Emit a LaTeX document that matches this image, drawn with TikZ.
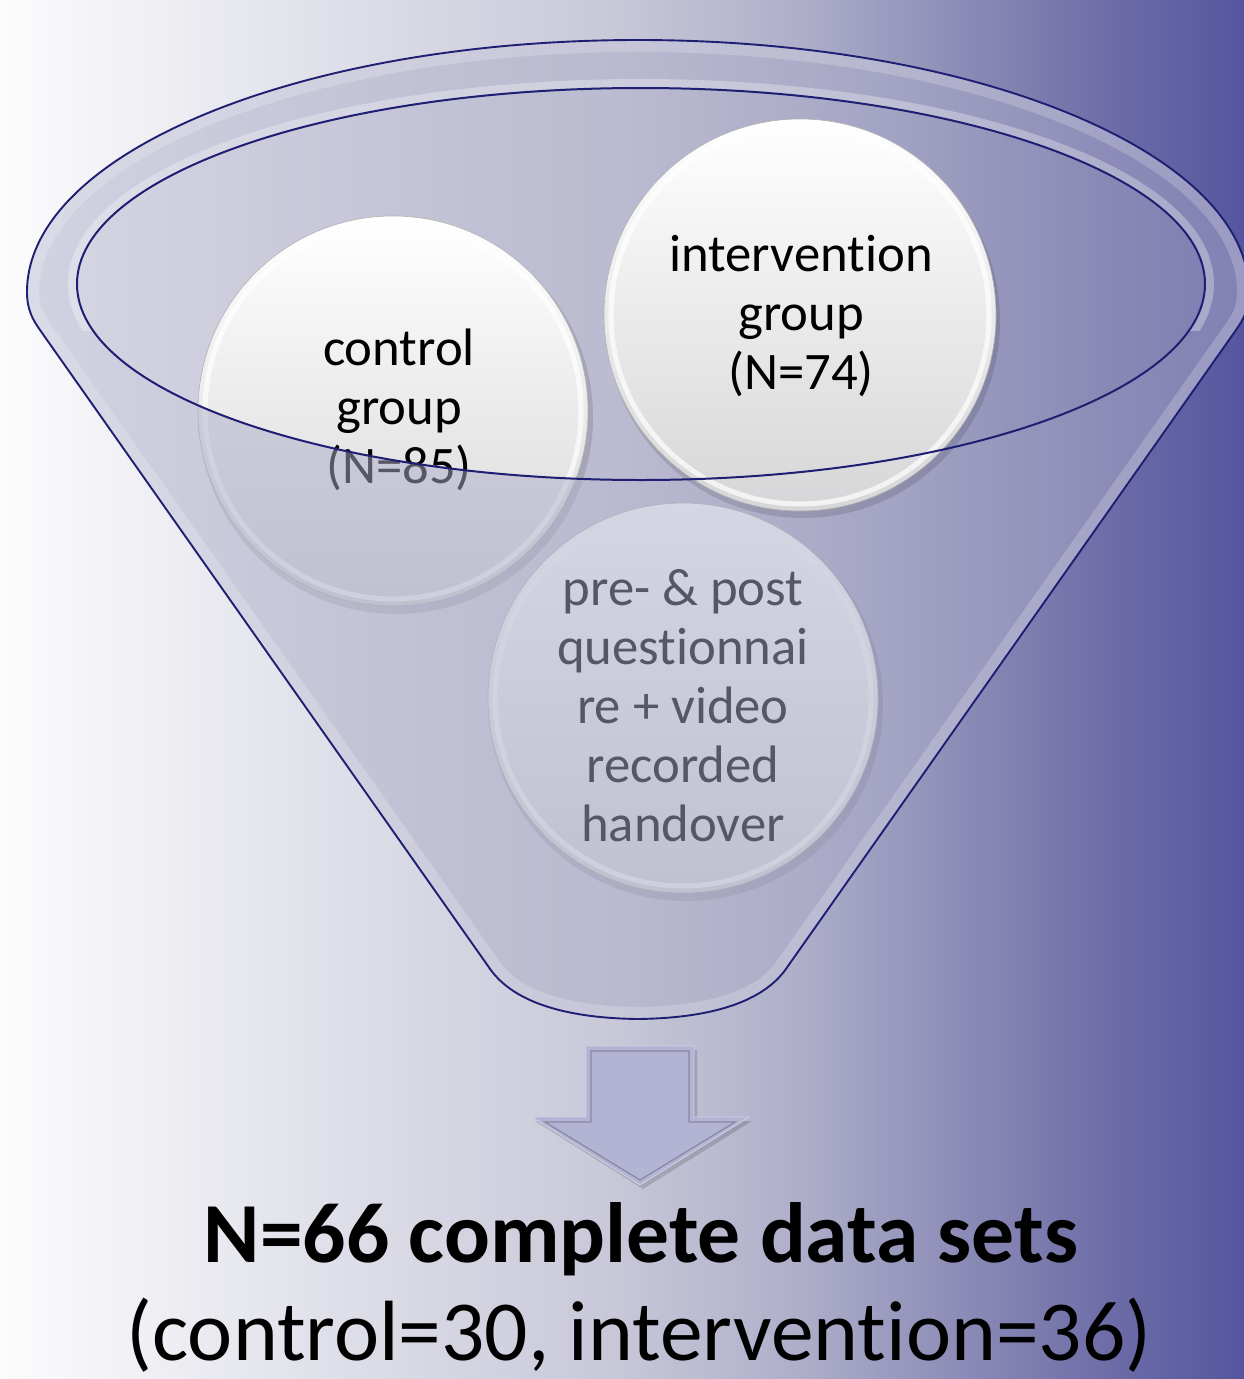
\documentclass[tikz,border=0pt]{standalone}
\usepackage{fontspec}
\setmainfont{Carlito}[Ligatures=NoCommon]
\definecolor{bgA}{HTML}{FCFCFD}
\definecolor{bgB}{HTML}{E2E2EB}
\definecolor{bgC}{HTML}{C7C7D8}
\definecolor{bgD}{HTML}{AEAECA}
\definecolor{bgE}{HTML}{8E8EB8}
\definecolor{bgF}{HTML}{6F6EA8}
\definecolor{bgG}{HTML}{55559F}
\definecolor{navy}{HTML}{1E1E72}
\definecolor{funnelc}{RGB}{172,172,200}
\definecolor{arrowc}{HTML}{B3B3D4}
\definecolor{ballbot}{HTML}{D6D6D8}
\begin{document}
\def\funnelpath{(27,292) arc[start angle=180, end angle=0, x radius=611pt, y radius=252pt]
  .. controls (1249,310) and (1243,320) .. (1236,330) -- (788,966)
  .. controls (766,1000) and (716,1018) .. (638,1019)
  .. controls (560,1018) and (510,1000) .. (488,966) -- (40,330)
  .. controls (33,320) and (27,310) .. cycle}
\def\openpath{(641,284) ellipse[x radius=564pt, y radius=196pt]}
\begin{tikzpicture}[x=1pt,y=-1pt,
  balltext/.style={align=center, font=\fontsize{52.7}{59}\selectfont, text=black, inner sep=0pt},
  bigtext/.style={font=\fontsize{85.5}{98}\selectfont, text=black, inner sep=0pt, anchor=base}]
\useasboundingbox (0,0) rectangle (1244,1379);
% background
\shade[left color=bgA, right color=bgB] (-1,-1) rectangle (301,1380);
\shade[left color=bgB, right color=bgC] (300,-1) rectangle (621,1380);
\shade[left color=bgC, right color=bgD] (620,-1) rectangle (801,1380);
\shade[left color=bgD, right color=bgE] (800,-1) rectangle (951,1380);
\shade[left color=bgE, right color=bgF] (950,-1) rectangle (1101,1380);
\shade[left color=bgF, right color=bgG] (1100,-1) rectangle (1245,1380);
% back of funnel opening
\fill[funnelc, opacity=0.45] \openpath;
% balls under the funnel body
\foreach \cx/\cy in {393/411, 683/698}{
  \fill[black, opacity=0.12] (\cx+3,\cy+6) circle[radius=197pt];
  \shade[top color=white, bottom color=ballbot] (\cx,\cy) circle[radius=195pt];
  \draw[white, opacity=0.7, line width=5pt] (\cx,\cy) circle[radius=188pt];
  \draw[gray!60, line width=0.6pt] (\cx,\cy) circle[radius=195pt];
}
\node[balltext] (ctrl) at (399,410) {control\\group\\(N=85)};
\node[balltext] (meas) at (683,706) {pre- \& post\\questionnai\\re + video\\recorded\\handover};
% funnel body overlay
\fill[funnelc, opacity=0.5, even odd rule] \funnelpath \openpath;
% intervention ball
\fill[black, opacity=0.12] (803,321) circle[radius=197pt];
\shade[top color=white, bottom color=ballbot] (800,315) circle[radius=196pt];
\draw[white, opacity=0.7, line width=5pt] (800,315) circle[radius=189pt];
\draw[gray!60, line width=0.6pt] (800,315) circle[radius=196pt];
\node[balltext] (intv) at (801,316) {intervention\\group\\(N=74)};
% bevel highlights of the funnel
\begin{scope}
  \clip \funnelpath;
  \draw[white, opacity=0.2, line width=24pt] \funnelpath;
\end{scope}
\begin{scope}[even odd rule]
  \clip \funnelpath \openpath;
  \clip (0,0) rectangle (1244,330);
  \draw[white, opacity=0.3, line width=18pt] \openpath;
\end{scope}
% outlines
\draw[navy, line width=1.9pt] \funnelpath;
\draw[navy, line width=2pt] \openpath;
% arrow
\fill[black, opacity=0.15] (589,1050) -- (697,1050) -- (697,1121) -- (752,1121) -- (643,1189) -- (535,1121) -- (589,1121) -- cycle;
\fill[arrowc] (586,1046) -- (694,1046) -- (694,1117) -- (749,1117) -- (640,1185) -- (532,1117) -- (586,1117) -- cycle;
\draw[black!40!arrowc, opacity=0.6, line width=1.2pt] (591,1051) -- (689,1051) -- (689,1122) -- (735,1122) -- (640,1180) -- (545,1122) -- (591,1122) -- cycle;
\draw[white!40!arrowc, line width=0.8pt] (586,1046) -- (694,1046) -- (694,1117) -- (749,1117) -- (640,1185) -- (532,1117) -- (586,1117) -- cycle;
% bottom text
\node[bigtext] (title) at (641,1262) {\bfseries N=66 complete data sets};
\node[bigtext] (sub) at (639,1360) {(control=30, intervention=36)};
\end{tikzpicture}
\end{document}
